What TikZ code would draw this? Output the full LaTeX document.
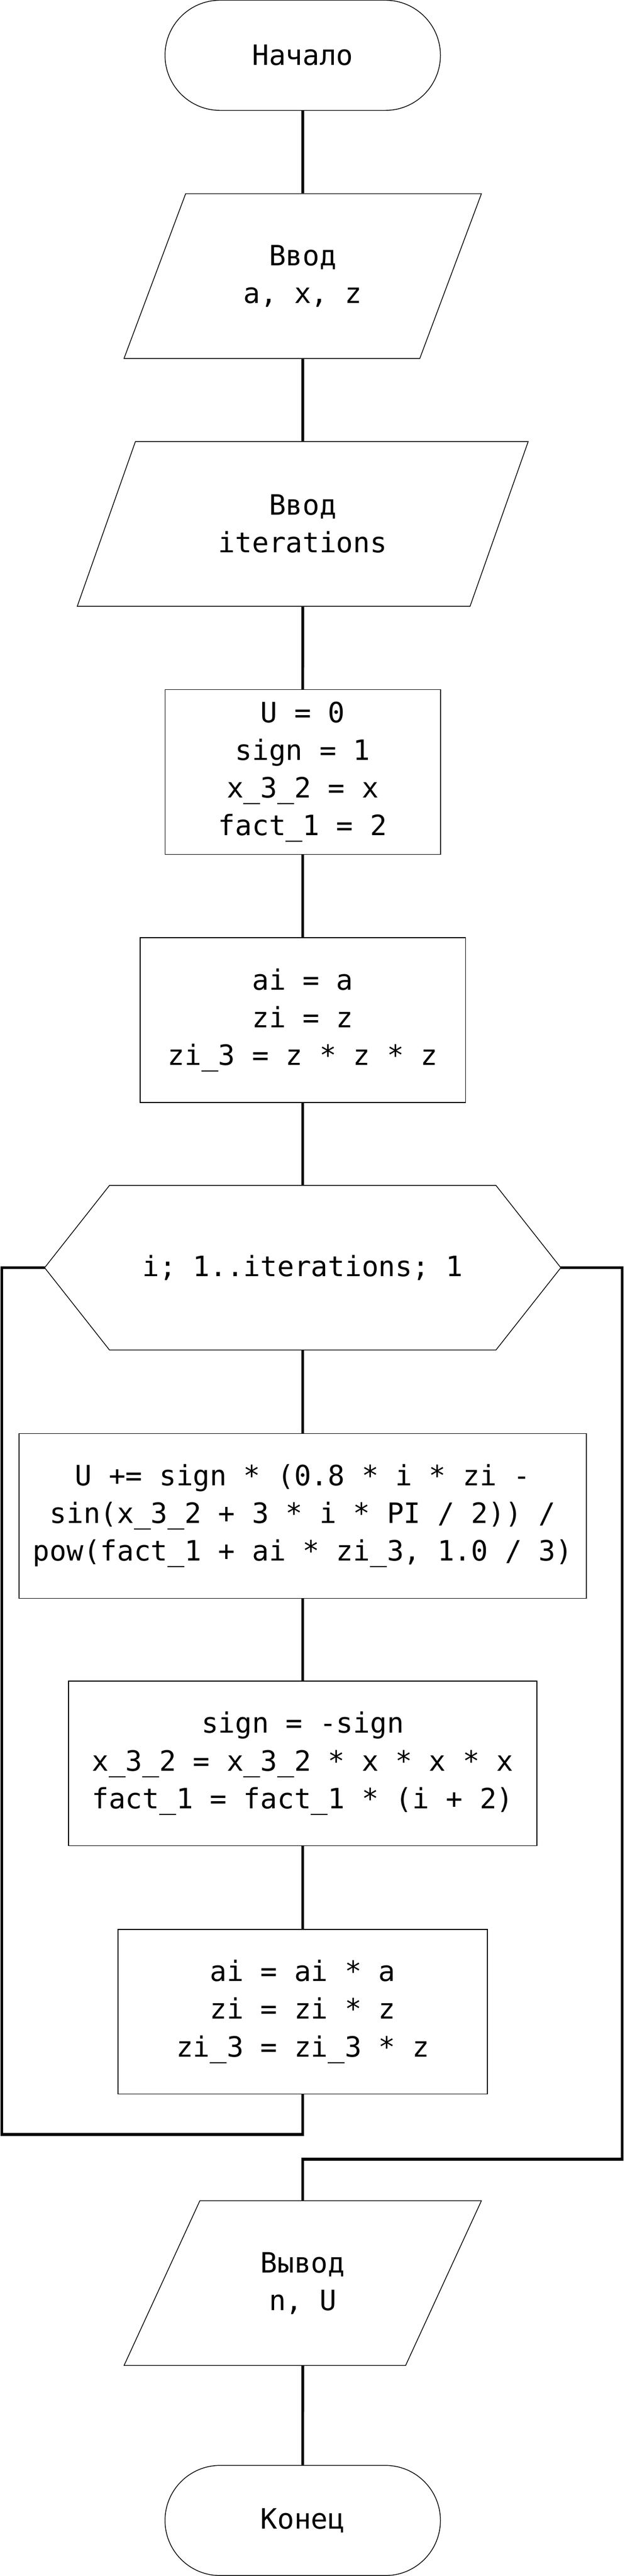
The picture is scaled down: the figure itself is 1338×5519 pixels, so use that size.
\documentclass[tikz,border=0pt]{standalone}
\usepackage{fontspec}
\setmonofont{DejaVu Sans Mono}
\usetikzlibrary{shapes.geometric}

\begin{document}
\begin{tikzpicture}[x=0.5pt, y=-0.5pt,
	every node/.style={inner sep=0pt, align=center, font=\ttfamily\fontsize{30}{40.3}\selectfont},
	blk/.style={draw, line width=0.8pt, minimum height=176.5pt},
	term/.style={blk, rectangle, rounded corners=59pt, minimum width=295pt, minimum height=118pt},
	io/.style={blk, trapezium, trapezium left angle=63.37, trapezium right angle=116.63, trapezium stretches=true},
	proc/.style={blk, rectangle},
	flow/.style={line width=3pt}]
	\useasboundingbox (0,0) rectangle (1338,5519);

	% Input
	\node[term] (start) at (648.5,118.5) {Начало};
	\node[io, minimum width=383.5pt] (in1) at (648.5,591.5) {Ввод\\a, x, z};
	\node[io, minimum width=483.5pt] (in2) at (648.5,1122.5) {Ввод\\iterations};
	\node[proc, minimum width=295pt] (init) at (648.5,1654) {U = 0\\sign = 1\\x\_3\_2 = x\\fact\_1 = 2};
	\node[proc, minimum width=348.5pt] (prep) at (648.5,2185.5) {ai = a\\zi = z\\zi\_3 = z * z * z};

	% Loop header (hexagon)
	\node[minimum width=413.5pt, minimum height=176pt] (loop) at (648.5,2716) {i; 1..iterations; 1};
	\coordinate (lw) at ([xshift=-69.5pt]loop.west);
	\coordinate (le) at ([xshift=69.5pt]loop.east);
	\draw[line width=0.8pt] (loop.north west) -- (loop.north east) -- (le) -- (loop.south east) -- (loop.south west) -- (lw) -- cycle;

	% Loop body
	\node[proc, minimum width=607.5pt] (sum) at (648.5,3248) {U += sign * (0.8 * i * zi -\\sin(x\_3\_2 + 3 * i * PI / 2)) /\\pow(fact\_1 + ai * zi\_3, 1.0 / 3)};
	\node[proc, minimum width=501.5pt] (upd) at (648.5,3778) {sign = -sign\\x\_3\_2 = x\_3\_2 * x * x * x\\fact\_1 = fact\_1 * (i + 2)};
	\node[proc, minimum width=395.5pt] (pows) at (648.5,4310) {ai = ai * a\\zi = zi * z\\zi\_3 = zi\_3 * z};

	% Output
	\node[io, minimum width=383.5pt] (out) at (648.5,4891.5) {Вывод\\n, U};
	\node[term] (stop) at (648.5,5400) {Конец};

	% Connectors
	\draw[flow] (start) -- (in1);
	\draw[flow] (in1) -- (in2);
	\draw[flow] (in2) -- (init);
	\draw[flow] (init) -- (prep);
	\draw[flow] (prep) -- (loop);
	\draw[flow] (loop) -- (sum);
	\draw[flow] (sum) -- (upd);
	\draw[flow] (upd) -- (pows);
	\coordinate (back) at (4,4573);
	\draw[flow] (pows.south) |- (back) |- (lw);
	\coordinate (exit) at (1333,4626);
	\draw[flow] (le) -| (exit) -| (out);
	\draw[flow] (out) -- (stop);
\end{tikzpicture}
\end{document}
